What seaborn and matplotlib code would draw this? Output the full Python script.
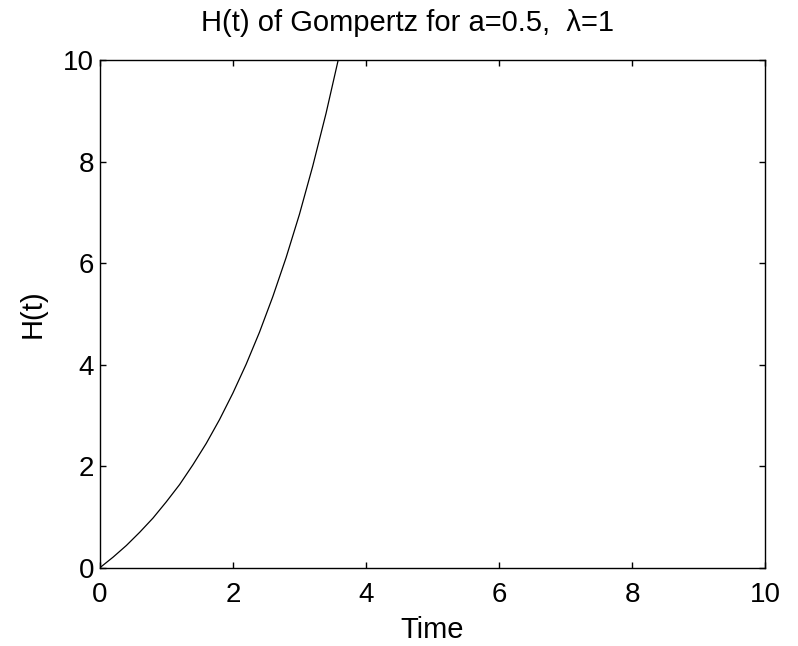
import matplotlib
matplotlib.use("Agg")
import matplotlib.pyplot as plt
import seaborn as sns
import pandas as pd

time_vals = [0.0, 0.2, 0.4, 0.6, 0.8, 1.0, 1.2, 1.4, 1.6, 1.8, 2.0, 2.2, 2.4, 2.6, 2.8, 3.0, 3.2, 3.4, 3.6]
h_vals = [0.0, 0.21, 0.44, 0.70, 0.98, 1.30, 1.64, 2.03, 2.45, 2.92, 3.44, 4.01, 4.64, 5.34, 6.11, 6.96, 7.91, 8.95, 10.10]
x_ticks = [0, 2, 4, 6, 8, 10]
y_ticks = [0, 2, 4, 6, 8, 10]

sns.set_style("ticks", {"axes.edgecolor": "black", "text.color": "black",
                        "axes.labelcolor": "black", "xtick.color": "black",
                        "ytick.color": "black"})
plt.rcParams['font.family'] = ['Liberation Sans', 'DejaVu Sans']

df = pd.DataFrame({"Time": time_vals, "H(t)": h_vals})

fig = plt.figure(figsize=(7.98, 6.46), dpi=100)
ax = fig.add_axes([0.125, 0.121, 0.834, 0.786])
sns.lineplot(data=df, x="Time", y="H(t)", ax=ax, color="black", linewidth=0.9)
ax.set_xlim(0, 10)
ax.set_ylim(0, 10)
ax.set_xticks(x_ticks)
ax.set_yticks(y_ticks)
ax.tick_params(direction="in", top=True, right=True, length=4.5, width=1.0, labelsize=20)
ax.tick_params(axis="x", pad=10)
ax.tick_params(axis="y", pad=4)
for s in ax.spines.values():
    s.set_linewidth(1.0)
    s.set_visible(True)
ax.set_xlabel("Time", fontsize=21, labelpad=6)
ax.set_ylabel("H(t)", fontsize=21, labelpad=12)
ax.set_title("H(t) of Gompertz for a=0.5,  λ=1", fontsize=21, pad=21, x=0.463)
fig.savefig("out.png", dpi=100)
